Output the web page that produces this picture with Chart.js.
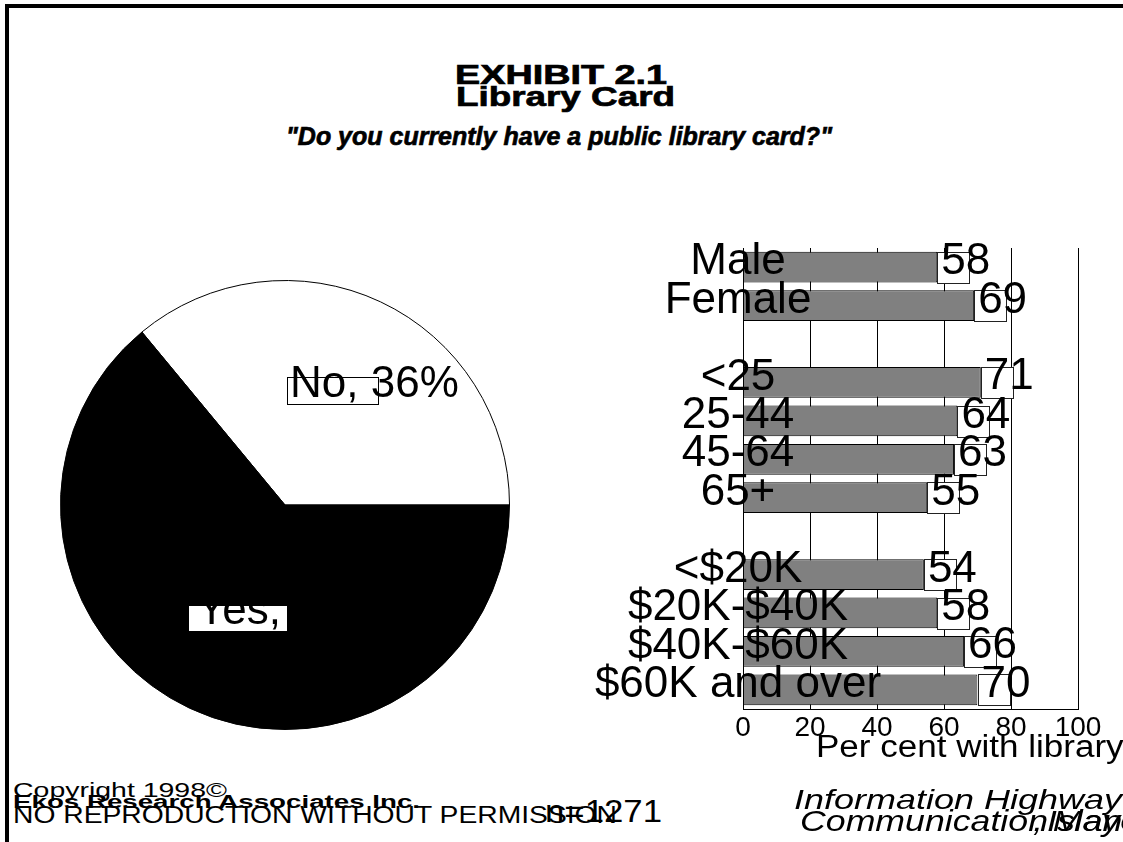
<!DOCTYPE html>
<html>
<head>
<meta charset="utf-8">
<title>Exhibit 2.1 - Library Card</title>
<script src="https://cdn.jsdelivr.net/npm/chart.js@4.4.0/dist/chart.umd.min.js"></script>
<style>
  body { margin: 0; background: #fff; }
  #page {
    position: relative;
    width: 1123px;
    height: 842px;
    overflow: hidden;
    background: #fff;
    font-family: 'Liberation Sans', Arial, sans-serif;
    color: #000;
  }
  .rule { position: absolute; background: #000; }
  .txt {
    position: absolute;
    white-space: nowrap;
    line-height: 1;
    transform-origin: 0 0;
  }
  .heavy { -webkit-text-stroke: 0.7px #000; }
  #pie { position: absolute; left: 60px; top: 280px; }
  #bars { position: absolute; left: 560px; top: 230px; }
</style>
</head>
<body>
<div id="page">
  <div class="rule" style="left:5px; top:4px; width:1118px; height:4px;"></div>
  <div class="rule" style="left:5px; top:4px; width:4px; height:838px;"></div>
  <canvas id="pie" width="450" height="450"></canvas>
  <canvas id="bars" width="563" height="540"></canvas>
</div>

<script>
const FONT = "'Liberation Sans', Arial, sans-serif";

// Do you have a library card? (all respondents)
const pieLabels = ['No', 'Yes'];
const pieShares = [36, 64];

// per cent with library card, by subgroup ('' rows are spacers)
const groupLabels = ['Male', 'Female', '', '<25', '25-44', '45-64', '65+', '', '<$20K', '$20K-$40K', '$40K-$60K', '$60K and over'];
const cardPercents = [58, 69, null, 71, 64, 63, 55, null, 54, 58, 66, 70];

const axisTicks = [0, 20, 40, 60, 80, 100];

const page = document.getElementById('page');

// places a line of text by its baseline, optionally squeezed/stretched to a width
function putText(str, o) {
  const el = document.createElement('div');
  el.className = 'txt' + (o.heavy ? ' heavy' : '');
  el.textContent = str;
  el.style.fontSize = o.size + 'px';
  if (o.bold) el.style.fontWeight = 'bold';
  if (o.italic) el.style.fontStyle = 'italic';
  page.appendChild(el);
  const natural = el.getBoundingClientRect().width;
  const sx = o.width ? o.width / natural : (o.scale || 1);
  const w = natural * sx;
  el.style.left = (o.align === 'center' ? o.x - w / 2 : o.x) + 'px';
  el.style.top = (o.base - 0.8465 * o.size) + 'px';
  el.style.transform = 'scaleX(' + sx + ')';
}

// headings
putText('EXHIBIT 2.1', { x: 561, base: 85, size: 28, bold: true, heavy: true, width: 212, align: 'center' });
putText('Library Card', { x: 565, base: 107, size: 28, bold: true, heavy: true, width: 219, align: 'center' });
putText('"Do you currently have a public library card?"', { x: 559, base: 145, size: 26, bold: true, italic: true, heavy: true, width: 546, align: 'center' });

// axis caption under the bars
putText('Per cent with library card', { x: 816, base: 757, size: 31, scale: 1.13 });

// footer
putText('Copyright 1998\u00a9', { x: 13, base: 797, size: 21, width: 214 });
putText('Ekos Research Associates Inc.', { x: 13, base: 808, size: 18, bold: true, width: 407 });
putText('NO REPRODUCTION WITHOUT PERMISSION', { x: 13, base: 823, size: 23, width: 604 });
putText('n=1271', { x: 545, base: 822, size: 31, width: 117 });
putText('Information Highway', { x: 794, base: 810, size: 28, italic: true, width: 328 });
putText('Communication', { x: 800, base: 832, size: 29, italic: true, width: 248 });
putText(', Mayo', { x: 1033, base: 832, size: 29, italic: true, scale: 1.23 });
putText('Island', { x: 1047, base: 832, size: 29, italic: true, scale: 1.23 });

// ---- pie ----
const sliceLabels = {
  id: 'sliceLabels',
  afterDatasetsDraw(chart) {
    const ctx = chart.ctx;
    const arc = chart.getDatasetMeta(0).data[0];
    const cx = arc.x, cy = arc.y;
    ctx.save();
    ctx.font = '44px ' + FONT;
    ctx.textBaseline = 'alphabetic';

    // "No" label with its little outlined box
    ctx.fillStyle = '#fff';
    ctx.fillRect(cx + 2, cy - 128, 91, 27);
    ctx.strokeStyle = '#000';
    ctx.lineWidth = 1;
    ctx.strokeRect(cx + 2.5, cy - 127.5, 91, 27);
    ctx.fillStyle = '#000';
    ctx.fillText(pieLabels[0] + ', ' + pieShares[0] + '%', cx + 5, cy - 108);

    // "Yes" label, mostly lost in the black slice
    ctx.fillStyle = '#fff';
    ctx.fillRect(cx - 96, cy + 101, 98, 25);
    ctx.fillStyle = '#000';
    ctx.fillText(pieLabels[1] + ', ' + pieShares[1] + '%', cx - 88, cy + 119);
    ctx.restore();
  }
};

const total = pieShares.reduce((a, b) => a + b, 0);

new Chart(document.getElementById('pie'), {
  type: 'pie',
  data: {
    labels: pieLabels,
    datasets: [{
      data: pieShares,
      backgroundColor: ['#ffffff', '#000000'],
      borderColor: '#000',
      borderWidth: 1
    }]
  },
  options: {
    responsive: false,
    animation: false,
    // "No" slice ends at three o'clock
    rotation: 90 - pieShares[0] / total * 360,
    layout: { padding: 0 },
    plugins: { legend: { display: false }, tooltip: { enabled: false } }
  },
  plugins: [sliceLabels]
});

// ---- bars ----
const measure = document.createElement('canvas').getContext('2d');
measure.font = '44px ' + FONT;
const widest = Math.max(...groupLabels.map(l => measure.measureText(l).width));

const valueBoxes = {
  id: 'valueBoxes',
  afterDatasetsDraw(chart) {
    const ctx = chart.ctx;
    const bars = chart.getDatasetMeta(0).data;
    ctx.save();
    ctx.font = '44px ' + FONT;
    ctx.textBaseline = 'alphabetic';
    bars.forEach((bar, i) => {
      const v = cardPercents[i];
      if (v == null) return;
      const h = bar.height;
      const top = Math.round(bar.y - h / 2);
      ctx.fillStyle = '#fff';
      ctx.fillRect(bar.x, top, 32, Math.round(h));
      ctx.strokeStyle = '#222';
      ctx.lineWidth = 1;
      ctx.strokeRect(Math.round(bar.x) + 0.5, top + 0.5, 32, Math.round(h));
      ctx.fillStyle = '#000';
      ctx.fillText(String(v), bar.x + 4, bar.y + 7);
    });
    ctx.restore();
  }
};

new Chart(document.getElementById('bars'), {
  type: 'bar',
  data: {
    labels: groupLabels,
    datasets: [{
      data: cardPercents,
      backgroundColor: '#808080',
      borderColor: '#000',
      borderWidth: 1,
      barPercentage: 0.8,
      categoryPercentage: 1
    }]
  },
  options: {
    indexAxis: 'y',
    responsive: false,
    animation: false,
    layout: { padding: { top: 18, right: 45, bottom: 0, left: 0 } },
    plugins: { legend: { display: false }, tooltip: { enabled: false } },
    scales: {
      x: {
        min: 0,
        max: 100,
        afterBuildTicks: s => { s.ticks = axisTicks.map(v => ({ value: v })); },
        afterFit: s => { s.height = 61; },
        ticks: { color: '#000', font: { family: FONT, size: 28 }, padding: 2, maxRotation: 0 },
        grid: { color: '#000', lineWidth: 1, drawTicks: false },
        border: { color: '#000', width: 1 }
      },
      y: {
        afterFit: s => { s.width = 183; },
        border: { color: '#000', width: 1, z: 1 },
        ticks: {
          // drawn above the bars, mirrored so they are not clipped to the
          // axis box, then pulled back to sit centred on the axis line
          z: 1,
          color: '#000',
          font: { family: FONT, size: 44 },
          mirror: true,
          crossAlign: 'center',
          padding: -5 - widest / 2,
          labelOffset: -5,
          autoSkip: false
        },
        grid: { display: false, drawTicks: false }
      }
    }
  },
  plugins: [valueBoxes]
});
</script>
</body>
</html>
